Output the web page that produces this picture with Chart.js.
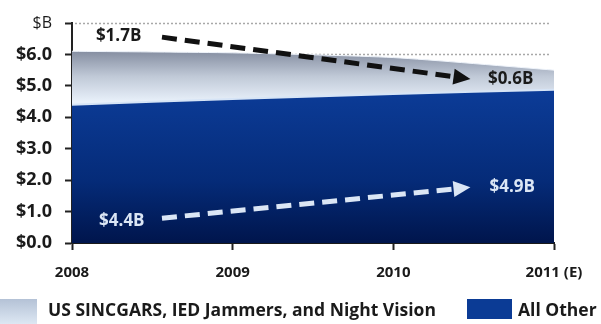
<!DOCTYPE html>
<html>
<head>
<meta charset="utf-8">
<script src="https://cdn.jsdelivr.net/npm/chart.js@4/dist/chart.umd.min.js"></script>
<style>
  html, body { margin: 0; padding: 0; background: #fff; }
  #wrap { position: relative; width: 601px; height: 324px; overflow: hidden; }
  #myChart { position: absolute; left: 0; top: 0; }
  .sw { position: absolute; }
  .lbl { position: absolute; font-family: 'Open Sans', sans-serif; font-weight: bold; font-size: 17.5px; color: #1a1a1a; line-height: 20px; white-space: nowrap; }
</style>
</head>
<body>
<div id="wrap">
  <canvas id="myChart" width="601" height="324"></canvas>
  <div class="sw" style="left:0;top:299px;width:37px;height:25px;background:linear-gradient(#b4c2d6,#dde7f3);"></div>
  <div class="lbl" style="left:48px;top:299px;">US SINCGARS, IED Jammers, and Night Vision</div>
  <div class="sw" style="left:467px;top:299px;width:45px;height:20px;background:#0b3b95;"></div>
  <div class="lbl" style="left:518px;top:299px;">All Other</div>
</div>
<script>
const YEARS = [2008, 2009, 2010, 2011];
const YEAR_LABELS = ['2008', '2009', '2010', '2011 (E)'];
const ALL_OTHER = [4.4, 4.58, 4.74, 4.88];
const SINCGARS = [1.7, 1.47, 1.16, 0.62];
const Y_TICKS = ['$0.0', '$1.0', '$2.0', '$3.0', '$4.0', '$5.0', '$6.0', '$B'];

// arrows: [x1, y1, x2, y2] in data units
const BLACK_ARROW = [2008.56, 6.55, 2010.48, 5.22];
const WHITE_ARROW = [2008.56, 0.79, 2010.48, 1.77];
const NOTES = [
  { text: '$1.7B', x: 2008.29, y: 6.58, color: '#1a1a1a' },
  { text: '$0.6B', x: 2010.73, y: 5.22, color: '#1a1a1a' },
  { text: '$4.4B', x: 2008.31, y: 0.70, color: '#dbe6f5' },
  { text: '$4.9B', x: 2010.74, y: 1.77, color: '#dbe6f5' },
];

const FONT = "'Open Sans', sans-serif";

function pts(vals) {
  return YEARS.map((x, i) => ({ x: x, y: vals[i] }));
}

function darkFill(ctx) {
  const area = ctx.chart.chartArea;
  if (!area) return '#0b3b95';
  const y = ctx.chart.scales.y;
  const g = ctx.chart.ctx.createLinearGradient(0, y.getPixelForValue(4.9), 0, area.bottom);
  g.addColorStop(0, '#0c3c98');
  g.addColorStop(0.6, '#052b78');
  g.addColorStop(1, '#00154c');
  return g;
}

function lightFill(ctx) {
  const area = ctx.chart.chartArea;
  if (!area) return '#c0cad8';
  const y = ctx.chart.scales.y;
  const g = ctx.chart.ctx.createLinearGradient(0, y.getPixelForValue(6.1), 0, y.getPixelForValue(4.5));
  g.addColorStop(0, '#858ea1');
  g.addColorStop(0.5, '#c0c9d7');
  g.addColorStop(1, '#e8f0fa');
  return g;
}

const extras = {
  id: 'extras',
  beforeDatasetsDraw(chart) {
    const c = chart.ctx, xs = chart.scales.x, ys = chart.scales.y;
    c.save();
    c.strokeStyle = '#a8a8a8';
    c.lineWidth = 1.5;
    c.setLineDash([2, 2]);
    [6, 7].forEach(v => {
      const py = Math.round(ys.getPixelForValue(v)) + 0.5;
      c.beginPath();
      c.moveTo(xs.left + 3, py);
      c.lineTo(xs.right - 3, py);
      c.stroke();
    });
    c.restore();
  },
  afterDatasetsDraw(chart) {
    const c = chart.ctx, xs = chart.scales.x, ys = chart.scales.y;
    function arrow(a, color) {
      const x1 = xs.getPixelForValue(a[0]), y1 = ys.getPixelForValue(a[1]);
      const x2 = xs.getPixelForValue(a[2]), y2 = ys.getPixelForValue(a[3]);
      const ang = Math.atan2(y2 - y1, x2 - x1);
      const head = 17, half = 8;
      const bx = x2 - head * Math.cos(ang), by = y2 - head * Math.sin(ang);
      c.save();
      c.strokeStyle = color;
      c.fillStyle = color;
      c.lineWidth = 5;
      c.setLineDash([15, 8]);
      c.beginPath();
      c.moveTo(x1, y1);
      c.lineTo(bx, by);
      c.stroke();
      c.setLineDash([]);
      c.beginPath();
      c.moveTo(x2, y2);
      c.lineTo(bx + half * Math.sin(ang), by - half * Math.cos(ang));
      c.lineTo(bx - half * Math.sin(ang), by + half * Math.cos(ang));
      c.closePath();
      c.fill();
      c.restore();
    }
    arrow(BLACK_ARROW, '#111');
    arrow(WHITE_ARROW, '#dbe6f5');
    c.save();
    c.font = 'bold 17px ' + FONT;
    c.textAlign = 'center';
    c.textBaseline = 'middle';
    NOTES.forEach(n => {
      c.fillStyle = n.color;
      c.fillText(n.text, xs.getPixelForValue(n.x), ys.getPixelForValue(n.y));
    });
    c.restore();
  }
};

let ctx = document.querySelector('#myChart').getContext('2d');
let myChart = new Chart(ctx, {
  type: 'line',
  data: {
    datasets: [
      {
        label: 'All Other',
        data: pts(ALL_OTHER),
        fill: 'origin',
        backgroundColor: darkFill,
        borderColor: '#d6e4f6',
        borderWidth: 2,
        pointRadius: 0,
        tension: 0.2,
      },
      {
        label: 'US SINCGARS, IED Jammers, and Night Vision',
        data: pts(SINCGARS),
        fill: '-1',
        backgroundColor: lightFill,
        borderColor: '#eef3fa',
        borderWidth: 1,
        pointRadius: 0,
        tension: 0.2,
      },
    ],
  },
  plugins: [extras],
  options: {
    responsive: false,
    animation: false,
    layout: { padding: { top: 23, right: 47, bottom: 0, left: 0 } },
    plugins: { legend: { display: false }, tooltip: { enabled: false } },
    scales: {
      x: {
        type: 'linear',
        min: 2008,
        max: 2011,
        afterFit: s => { s.height = 81; },
        afterBuildTicks: s => { s.ticks = YEARS.map(v => ({ value: v })); },
        ticks: {
          callback: v => YEAR_LABELS[YEARS.indexOf(v)],
          font: { family: FONT, size: 15, weight: 'bold' },
          color: '#1a1a1a',
          padding: 14,
          maxRotation: 0,
        },
        grid: { drawOnChartArea: false, tickLength: 7, tickColor: '#222', tickWidth: 2 },
        border: { color: '#1a1a1a', width: 2 },
      },
      y: {
        stacked: true,
        min: 0,
        max: 7,
        afterFit: s => { s.width = 72; },
        ticks: {
          stepSize: 1,
          callback: v => Y_TICKS[v],
          font: c => ({ family: FONT, size: c.tick && c.tick.value === 7 ? 16 : 18, weight: c.tick && c.tick.value === 7 ? 'normal' : 'bold' }),
          color: '#1a1a1a',
          padding: 13,
        },
        grid: { drawOnChartArea: false, tickLength: 7, tickColor: '#222', tickWidth: 2 },
        border: { color: '#222', width: 2 },
      },
    },
  },
});
</script>
</body>
</html>
